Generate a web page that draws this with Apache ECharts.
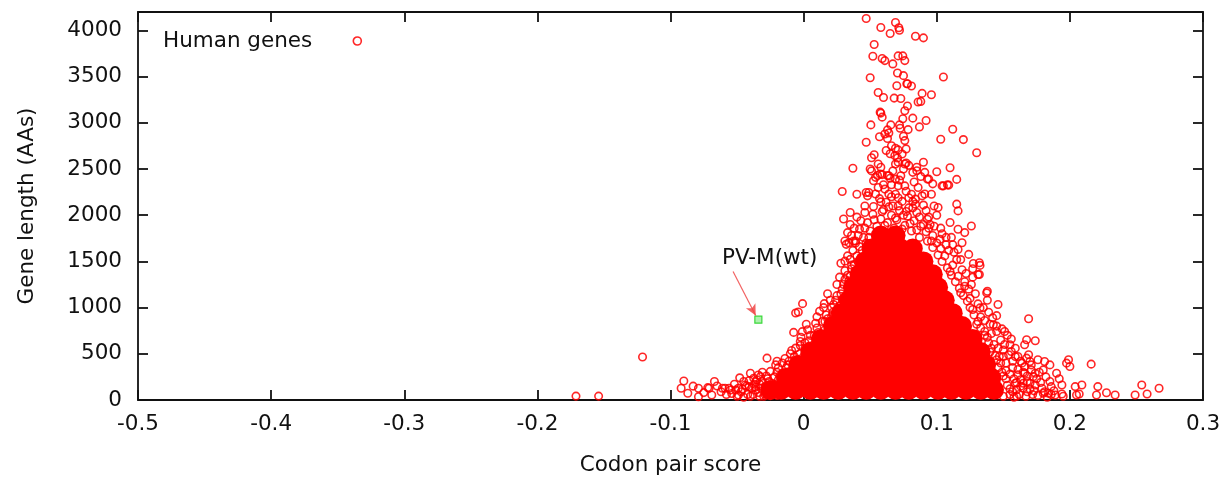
<!DOCTYPE html>
<html>
<head>
<meta charset="utf-8">
<script src="https://cdn.jsdelivr.net/npm/echarts@6/dist/echarts.min.js"></script>
<style>
  html, body { margin: 0; padding: 0; background: #fff; }
  #chart { width: 1230px; height: 481px; }
</style>
</head>
<body>
<div id="chart"></div>
<script>
// scattered genes (codon pair score, length in AAs)
var geneScatter = [
  [-0.121,465],[-0.171,42],[-0.154,42],
  // left tail near the axis
  [-0.092,127],[-0.090,205],[-0.087,73],[-0.083,150],[-0.079,127],[-0.079,36],[-0.075,80],[-0.072,134],[-0.071,127],
  [-0.069,54],[-0.067,200],[-0.065,152],[-0.062,90],[-0.061,127],[-0.059,127],[-0.058,60],[-0.056,127],[-0.055,109],
  [-0.051,109],[-0.049,54],[-0.049,127],[-0.047,90],[-0.045,200],[-0.045,30],[-0.044,163],[-0.042,60],[-0.041,145],
  [-0.040,290],[-0.039,127],[-0.0375,236],[-0.037,170],[-0.036,199],[-0.036,109],[-0.034,80],[-0.0325,253],
  [-0.031,300],[-0.030,40],[-0.029,145],[-0.0275,453],[-0.026,200],[-0.024,181],[-0.021,380],[-0.019,217],
  [-0.0125,253],[-0.006,308],[-0.001,308],
  [-0.043,150],[-0.038,60],[-0.035,220],[-0.032,130],[-0.029,60],[-0.027,230],[-0.025,80],[-0.022,160],
  [-0.020,50],[-0.018,260],[-0.016,140],[-0.052,170],[-0.054,70],[-0.048,240],[-0.046,120],
  [-0.040,40],[-0.036,140],[-0.033,40],[-0.031,200],[-0.028,110],[-0.034,270],[-0.041,210],[-0.050,40],
  // left flank
  [-0.0075,732],[-0.0025,634],[-0.006,562],[-0.009,536],[-0.0025,590],[0.0,471],[0.0025,489],[-0.006,942],
  [-0.004,953],[-0.0008,1043],[0.0155,1043],[0.0225,1033],[0.0075,598],[0.011,616],[0.016,761],[0.016,851],
  [0.021,905],[0.024,942],[0.021,834],[0.019,742],[0.021,688],[0.009,579],[0.011,525],[0.016,508],[0.006,416],
  [0.0025,362],
  [-0.033,170],[-0.028,260],[-0.024,120],[-0.020,300],[-0.017,210],[-0.013,350],[-0.011,420],[-0.008,280],
  [-0.005,390],[-0.003,500],[0.001,560],[0.004,640],[0.006,520],[0.008,700],[0.010,780],[0.012,660],[0.014,850],
  [0.017,920],[0.019,820],[0.021,1000],[0.024,1080],[0.026,960],[0.028,1150],[0.030,1250],[0.032,1060],
  [0.033,1350],[0.036,1420],[0.038,1240],[0.040,1560],[0.042,1660],[0.044,1480],[0.047,1700],
  [0.031,1721],[0.034,1703],[0.039,1721],[0.032,1685],[0.031,1503],[0.035,1522],[0.031,1304],[0.035,1340],
  [0.035,1160],[0.0325,1105],[0.033,1812],[0.0375,1721],[0.038,1467],
  [-0.025,310],[-0.022,250],[-0.019,350],[-0.016,290],[-0.014,450],[-0.012,380],[-0.009,330],[-0.007,470],
  [-0.004,430],[-0.016,400],[-0.010,500],[-0.020,420],
  [-0.002,680],[0.001,620],[0.003,760],[0.005,700],[0.007,560],[0.009,830],[0.011,730],[0.004,580],
  [-0.001,740],[0.013,610],[0.002,820],
  [0.012,960],[0.015,1000],[0.018,880],[0.020,1080],[0.022,950],[0.025,1130],[0.027,1020],[0.010,900],
  [0.018,1150],[0.023,870],[0.029,1090],
  [0.025,1250],[0.027,1330],[0.029,1200],[0.031,1400],[0.034,1290],[0.036,1460],[0.039,1380],[0.028,1480],
  [0.033,1560],[0.041,1500],
  [0.037,1620],[0.039,1700],[0.041,1780],[0.044,1620],[0.046,1860],[0.049,1760],[0.043,1940],[0.038,1860],
  // band above the solid core
  [0.036,1780],[0.042,1850],[0.045,1760],[0.048,1920],[0.052,2010],[0.055,1880],[0.058,1960],[0.060,2060],
  [0.062,1800],[0.063,1920],[0.066,2000],[0.067,2100],[0.068,1860],[0.070,1950],[0.072,2050],[0.073,1780],
  [0.074,2150],[0.076,1890],[0.078,1990],[0.079,2080],[0.081,1830],[0.083,1940],[0.085,2030],[0.087,1760],
  [0.088,1880],[0.090,2110],[0.092,1820],[0.094,1980],[0.096,1720],[0.098,1880],[0.100,2000],[0.104,1800],
  [0.107,1680],[0.111,1760],[0.113,1600],[0.118,1520],[0.057,2180],[0.064,2230],[0.071,2190],[0.077,2260],
  [0.082,2150],[0.089,2210],[0.046,2100],[0.040,1980],[0.035,1900],[0.030,1960],
  [0.035,2029],[0.046,2029],[0.0525,2095],[0.058,2145],[0.069,2228],[0.076,2318],[0.084,2174],[0.096,2228],
  [0.115,2120],[0.116,2047],[0.101,2084],[0.093,1957],[0.110,1921],[0.116,1848],[0.126,1884],[0.121,1812],
  [0.119,1703],[0.1025,1739],[0.116,1630],[0.124,1576],[0.049,2246],[0.061,2283],[0.071,2318],[0.081,2228],
  [0.050,1830],[0.053,1950],[0.056,1790],[0.059,2040],[0.061,1890],[0.064,2090],[0.066,1820],[0.069,1970],
  [0.071,2100],[0.074,1850],[0.077,2040],[0.080,1910],[0.082,2080],[0.085,1840],[0.087,1980],[0.090,1900],
  [0.092,2050],[0.095,1900],[0.098,2100],[0.054,2230],[0.060,2330],[0.066,2200],[0.072,2380],[0.079,2190],
  [0.086,2300],[0.091,2230],[0.062,2140],[0.075,2000],[0.084,2120],
  [0.058,2520],[0.067,2480],[0.079,2540],[0.088,2420],[0.066,2330],[0.083,2360],[0.056,2300],[0.097,2340],
  // upper plume
  [0.047,4130],[0.058,4033],[0.069,4087],[0.0715,4030],[0.072,4003],[0.065,3968],[0.084,3938],[0.090,3920],
  [0.053,3848],[0.052,3721],[0.059,3696],[0.061,3674],[0.067,3638],[0.071,3725],[0.0745,3725],[0.076,3674],
  [0.0705,3540],[0.075,3511],[0.050,3489],[0.105,3497],[0.070,3402],[0.078,3424],[0.081,3399],[0.056,3329],
  [0.060,3275],[0.068,3268],[0.073,3264],[0.089,3319],[0.096,3304],[0.086,3225],[0.088,3232],[0.078,3182],
  [0.076,3131],[0.058,3105],[0.059,3062],[0.0745,3044],[0.082,3051],[0.092,3025],[0.0505,2978],[0.0655,2978],
  [0.063,2924],[0.072,2978],[0.0725,2942],[0.0785,2927],[0.087,2956],[0.112,2931],[0.103,2823],[0.120,2819],
  [0.047,2790],[0.057,2850],[0.061,2880],[0.064,2890],[0.063,2830],[0.075,2855],[0.076,2808],[0.066,2753],
  [0.069,2725],[0.071,2707],[0.077,2718],[0.130,2677],[0.053,2655],[0.051,2623],[0.056,2555],[0.062,2700],
  [0.065,2665],[0.0685,2645],[0.0705,2620],[0.037,2508],[0.069,2555],[0.077,2565],[0.090,2573],[0.085,2519],
  [0.110,2514],[0.100,2471],[0.051,2480],[0.0555,2430],[0.059,2440],[0.063,2430],[0.065,2400],[0.073,2427],
  [0.082,2464],[0.085,2482],[0.091,2464],[0.094,2391],[0.115,2388],[0.108,2329],[0.105,2318],[0.029,2257],
  [0.040,2228],[0.047,2246],[0.048,2210],[0.071,2573],[0.076,2555],[0.074,2663],[0.064,2428],[0.069,2391],
  [0.075,2500],[0.093,2391],[0.104,2318],[0.109,2326],[0.054,2410],[0.0575,2446],[0.0525,2373],[0.050,2500],
  [0.0775,3424],[0.0575,3116],
  // right flank and tail
  [0.132,1486],[0.127,1421],[0.132,1359],[0.138,1177],[0.126,1250],[0.121,1232],
  [0.1275,1478],[0.1325,1457],[0.131,1359],[0.1375,1160],[0.146,1033],[0.1325,997],[0.169,880],[0.145,913],
  [0.1425,815],[0.136,742],[0.145,742],[0.151,742],[0.1675,652],[0.174,641],[0.166,598],[0.155,598],
  [0.156,525],[0.150,471],[0.145,435],[0.161,471],[0.1675,453],[0.164,399],[0.170,416],[0.176,435],
  [0.181,416],[0.185,380],[0.180,326],[0.171,326],[0.166,290],[0.161,272],[0.1725,253],[0.159,181],
  [0.165,181],[0.174,163],[0.179,127],[0.186,145],[0.194,163],[0.184,73],[0.189,54],[0.180,73],
  [0.199,435],[0.200,362],[0.1975,399],[0.204,145],[0.205,54],[0.216,388],[0.194,65],[0.209,163],
  [0.207,65],[0.221,145],[0.220,54],[0.2275,79],[0.234,54],[0.249,54],[0.254,163],[0.258,65],[0.267,127],
  [0.168,90],[0.163,150],[0.158,230],[0.155,120],[0.152,320],[0.150,260],[0.148,400],[0.146,350],
  [0.144,480],[0.141,560],[0.139,620],[0.136,700],[0.133,780],[0.131,850],[0.128,920],[0.125,1000],
  [0.123,1070],[0.120,1130],[0.117,1210],[0.114,1280],[0.111,1350],[0.108,1430],[0.104,1500],[0.101,1570],
  [0.097,1650],[0.093,1720],[0.160,40],[0.165,300],[0.157,420],[0.150,540],
  [0.155,60],[0.160,110],[0.163,220],[0.168,200],[0.170,120],[0.172,60],[0.175,230],[0.177,300],
  [0.182,250],[0.185,200],[0.188,100],[0.190,290],[0.192,230],[0.195,40],
  [0.150,40],[0.153,160],[0.157,90],[0.160,190],[0.162,60],[0.165,130],[0.167,40],[0.170,180],
  [0.173,100],[0.176,50],[0.178,190],[0.181,90],[0.183,30],[0.186,60],[0.152,230],[0.158,30],
  [0.149,300],[0.152,400],[0.155,280],[0.157,350],[0.159,470],[0.161,330],[0.163,420],[0.166,360],
  [0.168,260],[0.171,380],[0.174,290],[0.169,490],[0.154,490],[0.147,470],
  [0.140,520],[0.143,600],[0.146,560],[0.148,650],[0.151,600],[0.153,700],[0.156,660],[0.159,560],
  [0.141,720],[0.145,800],[0.149,770],[0.138,680],
  [0.130,820],[0.133,900],[0.136,860],[0.139,950],[0.142,890],[0.127,980],[0.131,1040],[0.135,1000],
  [0.138,1080],[0.125,1100],[0.140,820],
  [0.118,1160],[0.121,1280],[0.124,1200],[0.127,1330],[0.116,1340],[0.119,1410],[0.122,1370],[0.112,1460],
  [0.115,1520],[0.110,1390],[0.129,1150],
  [0.103,1640],[0.106,1560],[0.109,1620],[0.100,1700],[0.097,1780],[0.103,1860],[0.107,1760],[0.112,1680],
  [0.094,1860]
];

// the crowded centre, where the circles merge into solid red
var geneCore = [
  [-0.025,105],
  [-0.017,110],[-0.006,110],[0.005,110],[0.015,110],[0.026,110],[0.037,110],[0.047,110],[0.058,110],
  [0.069,110],[0.079,110],[0.090,110],[0.101,110],[0.111,110],[0.122,110],[0.133,110],[0.143,110],
  [-0.013,240],[-0.002,240],[0.009,240],[0.020,240],[0.031,240],[0.042,240],[0.053,240],[0.064,240],
  [0.075,240],[0.086,240],[0.097,240],[0.108,240],[0.119,240],[0.130,240],[0.141,240],
  [-0.004,380],[0.007,380],[0.018,380],[0.029,380],[0.040,380],[0.051,380],[0.062,380],[0.073,380],
  [0.084,380],[0.095,380],[0.106,380],[0.117,380],[0.127,380],[0.137,380],
  [0.005,520],[0.016,520],[0.027,520],[0.038,520],[0.049,520],[0.060,520],[0.071,520],[0.082,520],
  [0.093,520],[0.104,520],[0.114,520],[0.124,520],[0.133,520],
  [0.013,660],[0.024,660],[0.035,660],[0.046,660],[0.057,660],[0.068,660],[0.079,660],[0.090,660],
  [0.101,660],[0.111,660],[0.120,660],[0.127,660],
  [0.022,800],[0.033,800],[0.044,800],[0.055,800],[0.066,800],[0.077,800],[0.088,800],[0.099,800],
  [0.109,800],[0.119,800],
  [0.028,940],[0.039,940],[0.050,940],[0.061,940],[0.072,940],[0.083,940],[0.094,940],[0.104,940],[0.112,940],
  [0.034,1080],[0.045,1080],[0.056,1080],[0.067,1080],[0.078,1080],[0.089,1080],[0.099,1080],[0.106,1080],
  [0.037,1220],[0.048,1220],[0.059,1220],[0.070,1220],[0.081,1220],[0.092,1220],[0.101,1220],
  [0.042,1360],[0.053,1360],[0.064,1360],[0.075,1360],[0.086,1360],[0.097,1360],
  [0.046,1500],[0.057,1500],[0.068,1500],[0.079,1500],[0.090,1500],
  [0.051,1640],[0.062,1640],[0.073,1640],[0.082,1640],
  [0.058,1780],[0.069,1780]
];

var pvmPoint = [[-0.034,870]];
var pvmArrow = [[-0.053,1391],[-0.036,915]];

var font = 'DejaVu Sans';
var ink = '#111';
var ringRed = 'rgba(255,0,0,0.85)';

var myChart = echarts.init(document.getElementById('chart'));

var frameLine = { show: true, onZero: false, lineStyle: { color: ink, width: 1.8 } };
var innerTick = { show: true, inside: true, length: 10, lineStyle: { color: ink, width: 1.8 } };

myChart.setOption({
    animation: false,
    backgroundColor: '#fff',
    grid: { left: 138, right: 27, top: 12, bottom: 81 },
    legend: {
        left: 158,
        top: 25,
        align: 'right',
        itemWidth: 8,
        itemHeight: 8,
        selectedMode: false,
        textStyle: { fontFamily: font, fontSize: 21.5, color: ink, padding: [0, 36, 0, 0] },
        data: [{
            name: 'Human genes',
            icon: 'circle',
            itemStyle: { color: 'transparent', borderColor: ringRed, borderWidth: 1.6, opacity: 1 }
        }]
    },
    xAxis: [{
        type: 'value',
        min: -0.5,
        max: 0.3,
        interval: 0.1,
        axisLine: frameLine,
        axisTick: innerTick,
        splitLine: { show: false },
        axisLabel: { fontFamily: font, fontSize: 21.5, color: ink, margin: 13 },
        name: 'Codon pair score',
        nameLocation: 'middle',
        nameGap: 54,
        nameTextStyle: { fontFamily: font, fontSize: 21.5, color: ink }
    }, {
        type: 'value',
        position: 'top',
        min: -0.5,
        max: 0.3,
        interval: 0.1,
        axisLine: frameLine,
        axisTick: innerTick,
        axisLabel: { show: false },
        splitLine: { show: false }
    }],
    yAxis: [{
        type: 'value',
        min: 0,
        max: 4200,
        interval: 500,
        axisLine: frameLine,
        axisTick: innerTick,
        splitLine: { show: false },
        axisLabel: {
            fontFamily: font, fontSize: 21.5, color: ink, margin: 16, showMaxLabel: false,
            formatter: function (v) { return String(v); }
        },
        name: 'Gene length (AAs)',
        nameLocation: 'middle',
        nameGap: 100,
        nameTextStyle: { fontFamily: font, fontSize: 21.5, color: ink }
    }, {
        type: 'value',
        position: 'right',
        min: 0,
        max: 4200,
        interval: 500,
        axisLine: frameLine,
        axisTick: innerTick,
        axisLabel: { show: false },
        splitLine: { show: false }
    }],
    series: [{
        name: 'Human genes',
        type: 'scatter',
        z: 3,
        symbol: 'circle',
        symbolSize: 7.5,
        itemStyle: { color: 'transparent', borderColor: ringRed, borderWidth: 1.6, opacity: 1 },
        emphasis: { disabled: true },
        data: geneScatter
    }, {
        name: 'Human genes',
        type: 'scatter',
        z: 2,
        symbol: 'circle',
        symbolSize: 20,
        itemStyle: { color: '#ff0000', opacity: 1 },
        emphasis: { disabled: true },
        data: geneCore
    }, {
        name: 'PV-M(wt)',
        type: 'scatter',
        z: 4,
        symbol: 'rect',
        symbolSize: 7,
        itemStyle: { color: 'rgba(140,235,140,0.7)', borderColor: '#3ad83a', borderWidth: 1.2, opacity: 1 },
        emphasis: { disabled: true },
        data: pvmPoint,
        markLine: {
            silent: true,
            symbol: ['none', 'arrow'],
            symbolSize: [8, 11],
            label: { show: false },
            lineStyle: { color: 'rgba(240,70,70,0.85)', width: 1.2, type: 'solid' },
            data: [[{ coord: pvmArrow[0] }, { coord: pvmArrow[1] }]]
        },
        markPoint: {
            silent: true,
            symbolSize: 0,
            label: {
                show: true,
                position: 'inside',
                formatter: 'PV-M(wt)',
                fontFamily: font,
                fontSize: 21.5,
                color: ink
            },
            data: [{ coord: [-0.0255, 1533] }]
        }
    }]
});
</script>
</body>
</html>
